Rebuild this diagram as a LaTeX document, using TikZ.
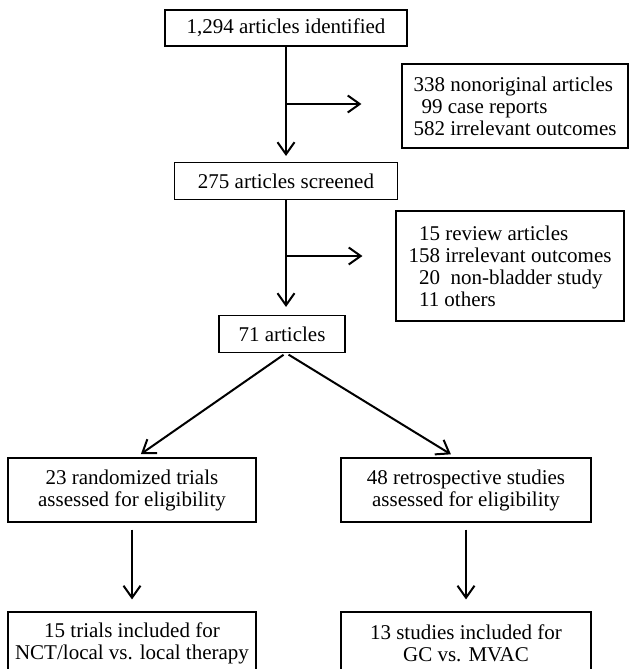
\documentclass[tikz,border=0pt]{standalone}
\usepackage{fontspec}
\setmainfont{Liberation Serif}
\usetikzlibrary{arrows.meta,positioning}
\tikzset{box node/.style={rectangle,draw,line width=1.1pt,align=center,inner sep=0pt,font=\fontsize{21}{22}\selectfont},
         excl node/.style={box node,align=left},
         flow/.style={line width=2pt,-{Straight Barb[length=12pt,width=17pt]}}
}

\begin{document}
\begin{tikzpicture}[x=1pt,y=-1pt]
\useasboundingbox (0,0) rectangle (629,669);
% main column
\node[box node,minimum width=242pt,minimum height=36pt] (0) at (286,28) {1,294 articles identified};
\node[box node,minimum width=223pt,minimum height=37pt] (2) at (286,181) {275 articles screened};
\node[box node,minimum width=126pt,minimum height=37pt] (4) at (282,334) {71 articles};
% excluded
\node[excl node,minimum width=226pt,minimum height=84pt] (1) at (515,106) {338 nonoriginal articles\\\hspace*{8pt}99 case reports\\582 irrelevant outcomes};
\node[excl node,minimum width=228pt,minimum height=110pt] (3) at (510,266) {\hphantom{0}15 review articles\\158 irrelevant outcomes\\\hphantom{0}20\ \ non-bladder study\\\hphantom{0}11 others};
% two branches
\node[box node,minimum width=248pt,minimum height=64pt] (5) at (132,490) {23 randomized trials\\assessed for eligibility};
\node[box node,minimum width=250pt,minimum height=64pt] (6) at (466,490) {48 retrospective studies\\assessed for eligibility};
\node[box node,minimum width=248pt,minimum height=62pt] (7) at (132,643) {15 trials included for\\NCT/local vs. local therapy};
\node[box node,minimum width=250pt,minimum height=62pt] (8) at (466,643) {13 studies included for\\GC vs. MVAC};

\coordinate (s1) at (286,104);
\coordinate (s2) at (286,256);

\draw[flow,shorten >=6pt] (0) -- (2);
\draw[flow,shorten >=40pt] (s1) -- (s1 -| 1.west);
\draw[flow,shorten >=8pt] (2) -- (4.north -| 2.south);
\draw[flow,shorten >=33pt] (s2) -- (s2 -| 3.west);
\draw[flow,shorten <=3pt,shorten >=6pt] (4.south -| 2.south) -- ([xshift=4pt]5.north);
\draw[flow,shorten <=3pt,shorten >=6pt] (4.south -| 2.south) -- ([xshift=-10pt]6.north);
\draw[flow,shorten <=7pt,shorten >=12pt] (5) -- (7);
\draw[flow,shorten <=7pt,shorten >=12pt] (6) -- (8);
\end{tikzpicture}
\end{document}
